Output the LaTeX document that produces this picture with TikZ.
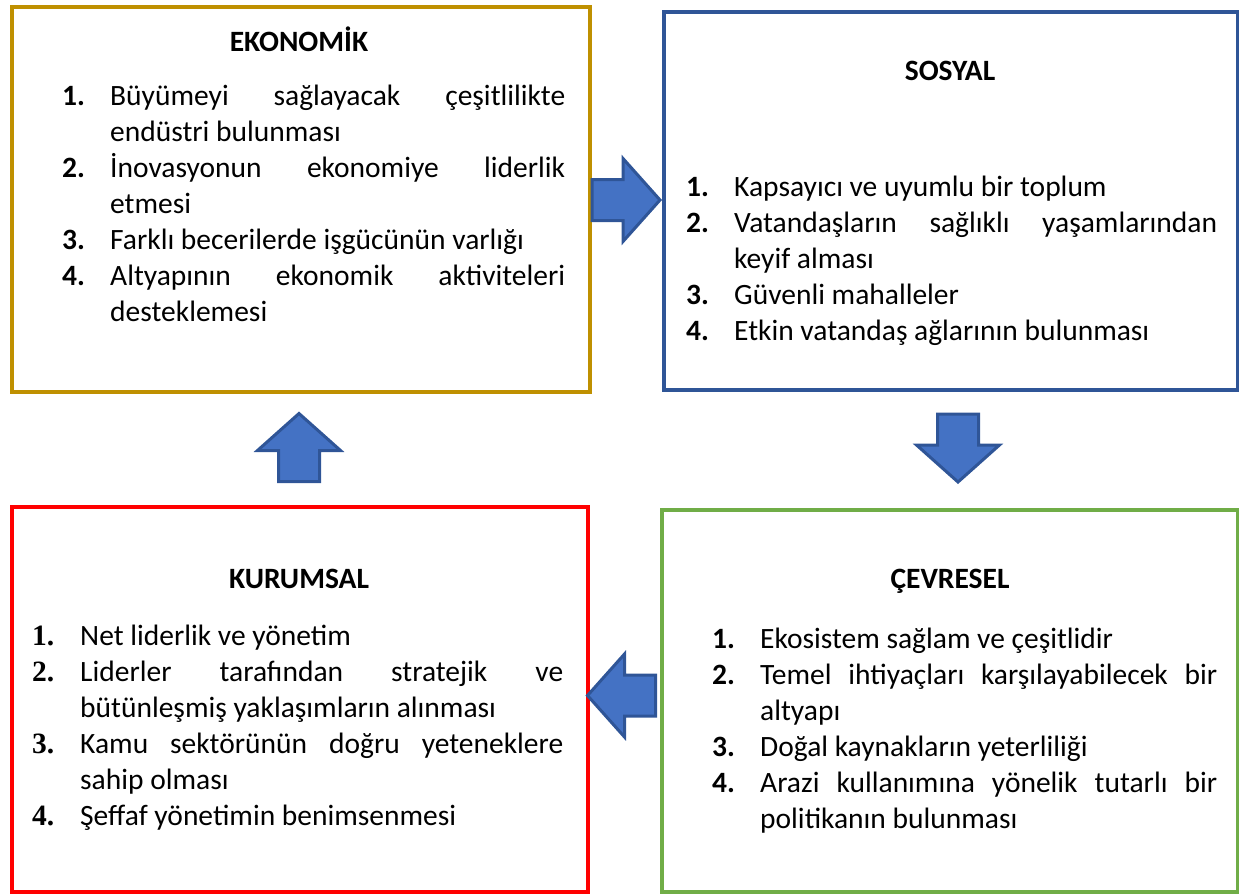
\documentclass[tikz,border=0pt]{standalone}
\usepackage{fontspec}
\setmainfont{Carlito}
\newfontfamily\numserif{Liberation Serif}
\definecolor{ekogold}{HTML}{BF9000}
\definecolor{sosblue}{HTML}{2F5597}
\definecolor{kurred}{HTML}{FF0000}
\definecolor{cevgreen}{HTML}{70AD47}
\definecolor{arrfill}{HTML}{4472C4}
\definecolor{arredge}{HTML}{2F5597}
\newcommand{\numitem}[2]{\hangindent=48pt\hangafter=1\noindent\makebox[48pt][l]{#1}#2\par}
\newcommand{\bnum}[1]{\textbf{#1}}
\newcommand{\snum}[1]{{\numserif\bfseries #1}}
% block arrow pointing along angle #3, centred at #2, named #1
\newcommand{\blockarrow}[3]{%
  \coordinate (#1) at (#2);
  \filldraw[flowarrow,shift={(#1)},rotate=#3]
    (-34,-20.5) -- (-3,-20.5) -- (-3,-41.5) -- (34,0) -- (-3,41.5)
    -- (-3,20.5) -- (-34,20.5) -- cycle;}

\begin{document}
\begin{tikzpicture}[x=1pt,y=-1pt,
  panel/.style={draw=#1,line width=4pt,anchor=north west,inner sep=0pt},
  paneltitle/.style={font=\bfseries\fontsize{29.5}{36}\selectfont,inner sep=0pt},
  panellist/.style={text width=#1,align=justify,anchor=base west,inner sep=0pt,
    font=\fontsize{29.5}{36}\selectfont},
  flowarrow/.style={draw=arredge,fill=arrfill,line width=3pt,line join=miter}]
  \useasboundingbox (0,0) rectangle (1239,895);

  % ---- the four panels --------------------------------------------------
  \node[panel=ekogold,minimum width=578pt,minimum height=385pt] (eko) at (10,5) {};
  \node[panel=sosblue,minimum width=574pt,minimum height=378pt] (sos) at (662,10) {};
  \node[panel=kurred,minimum width=576pt,minimum height=385pt] (kur) at (10,505) {};
  \node[panel=cevgreen,minimum width=576pt,minimum height=382pt] (cev) at (660,508) {};

  % ---- titles -----------------------------------------------------------
  \node[paneltitle] (ekotitle) at (299,39) {EKONOMİK};
  \node[paneltitle] (sostitle) at (950,71) {SOSYAL};
  \node[paneltitle] (kurtitle) at (299,579) {KURUMSAL};
  \node[paneltitle] (cevtitle) at (950,581) {ÇEVRESEL};

  % ---- lists ------------------------------------------------------------
  \node[panellist=503pt] (ekolist) at (62,105) {%
    \hyphenpenalty=10000\relax\tolerance=10000\relax
    \numitem{\bnum{1.}}{Büyümeyi sağlayacak çeşitlilikte\linebreak endüstri bulunması}
    \numitem{\bnum{2.}}{İnovasyonun ekonomiye liderlik\linebreak etmesi}
    \numitem{\bnum{3.}}{Farklı becerilerde işgücünün varlığı}
    \numitem{\bnum{4.}}{Altyapının ekonomik aktiviteleri\linebreak desteklemesi}};
  \node[panellist=531pt] (soslist) at (686,196) {%
    \hyphenpenalty=10000\relax\tolerance=10000\relax
    \numitem{\bnum{1.}}{Kapsayıcı ve uyumlu bir toplum}
    \numitem{\bnum{2.}}{Vatandaşların sağlıklı yaşamlarından\linebreak keyif alması}
    \numitem{\bnum{3.}}{Güvenli mahalleler}
    \numitem{\bnum{4.}}{Etkin vatandaş ağlarının bulunması}};
  \node[panellist=531pt] (kurlist) at (32,645) {%
    \hyphenpenalty=10000\relax\tolerance=10000\relax
    \numitem{\snum{1.}}{Net liderlik ve yönetim}
    \numitem{\snum{2.}}{Liderler tarafından stratejik ve\linebreak bütünleşmiş yaklaşımların alınması}
    \numitem{\snum{3.}}{Kamu sektörünün doğru yeteneklere\linebreak sahip olması}
    \numitem{\snum{4.}}{Şeffaf yönetimin benimsenmesi}};
  \node[panellist=505pt] (cevlist) at (712,648) {%
    \hyphenpenalty=10000\relax\tolerance=10000\relax
    \numitem{\bnum{1.}}{Ekosistem sağlam ve çeşitlidir}
    \numitem{\bnum{2.}}{Temel ihtiyaçları karşılayabilecek bir\linebreak altyapı}
    \numitem{\bnum{3.}}{Doğal kaynakların yeterliliği}
    \numitem{\bnum{4.}}{Arazi kullanımına yönelik tutarlı bir\linebreak politikanın bulunması}};

  % ---- block arrows between panels --------------------------------------
  \blockarrow{ekosos}{626,200}{0}
  \blockarrow{soscev}{958,448}{-90}
  \blockarrow{cevkur}{621.5,695.5}{180}
  \blockarrow{kureko}{299,447.5}{90}
\end{tikzpicture}
\end{document}
